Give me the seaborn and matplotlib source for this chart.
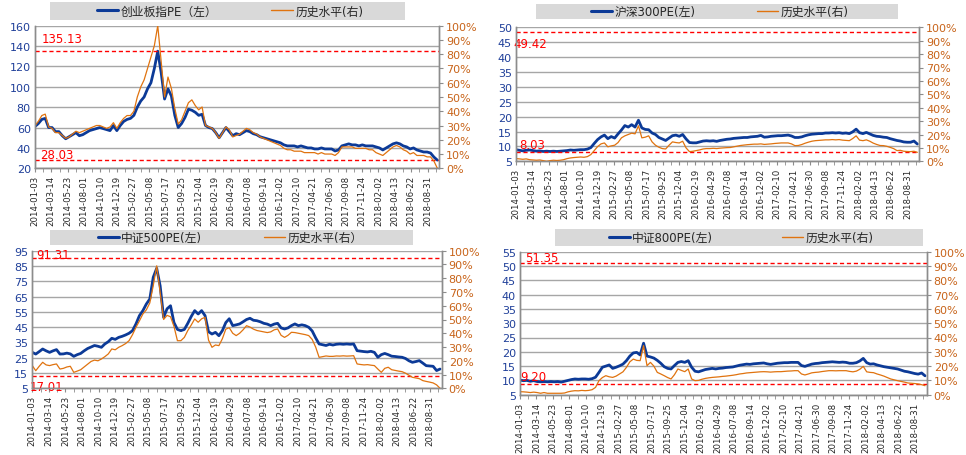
import numpy as np
import matplotlib
matplotlib.use('Agg')
import matplotlib.pyplot as plt
from matplotlib.patches import Rectangle
from matplotlib.lines import Line2D
from matplotlib.ticker import FuncFormatter, MultipleLocator
import seaborn as sns

sns.set_style('white')
plt.rcParams['font.family'] = ['DejaVu Sans', 'Noto Sans CJK SC']

# 日期标签（每10周一个）
date_labels = ['2014-01-03', '2014-03-14', '2014-05-23', '2014-08-01', '2014-10-10',
               '2014-12-19', '2015-02-27', '2015-05-08', '2015-07-17', '2015-09-25',
               '2015-12-04', '2016-02-19', '2016-04-29', '2016-07-08', '2016-09-14',
               '2016-12-02', '2017-02-10', '2017-04-21', '2017-06-30', '2017-09-08',
               '2017-11-24', '2018-02-02', '2018-04-13', '2018-06-22', '2018-08-31']

# 创业板指 PE 与历史分位(%)，约每两周一个点
cyb_pe = [61, 64, 68, 69, 60, 60, 56, 56, 52, 49,
          51, 53, 55, 52, 53, 55, 57, 58, 59, 60,
          59, 58, 57, 62, 57, 62, 66, 68, 69, 72,
          80, 86, 90, 98, 104, 118, 135, 114, 88, 98,
          91, 72, 60, 64, 70, 78, 77, 75, 72, 73,
          62, 60, 59, 55, 50, 55, 60, 56, 52, 54,
          53, 55, 57, 56, 54, 53, 51, 50, 49, 48,
          47, 46, 45, 43, 42, 42, 42, 41, 42, 41,
          40, 40, 39, 39, 40, 39, 39, 39, 37, 38,
          42, 43, 44, 43, 43, 42, 43, 42, 42, 42,
          41, 40, 38, 40, 42, 44, 45, 44, 42, 41,
          39, 40, 38, 37, 36, 36, 35, 31, 28]
cyb_pct = [30, 33, 37, 38, 29, 28, 25, 25, 23, 21,
           22, 24, 26, 25, 26, 27, 28, 29, 30, 30,
           29, 28, 29, 32, 28, 32, 35, 37, 37, 40,
           50, 57, 62, 70, 78, 86, 100, 75, 50, 64,
           56, 42, 31, 34, 40, 46, 48, 44, 41, 43,
           30, 29, 28, 25, 21, 25, 29, 27, 22, 23,
           24, 26, 28, 27, 25, 24, 22, 21, 20, 19,
           18, 17, 16, 14, 13, 13, 12, 12, 12, 11,
           11, 11, 11, 10, 11, 10, 10, 10, 9, 11,
           15, 15, 15, 15, 14, 14, 14, 14, 13, 13,
           11, 10, 9, 11, 13, 15, 16, 15, 13, 12,
           10, 11, 9, 9, 9, 8, 8, 5, 0]

# 沪深300 PE 与历史分位(%)
hs300_pe = [8.9, 8.7, 8.5, 8.7, 8.8, 8.6, 8.4, 8.5, 8.3, 8.4,
            8.3, 8.4, 8.3, 8.4, 8.5, 8.6, 8.8, 8.7, 8.8, 8.9,
            8.9, 9.1, 9.6, 11.0, 12.3, 13.2, 13.8, 12.6, 13.3, 12.8,
            14.2, 15.5, 17.0, 16.5, 17.3, 16.5, 18.8, 16.2, 15.7, 15.6,
            14.5, 14.0, 13.0, 12.5, 12.0, 12.8, 13.6, 13.8, 13.4, 14.0,
            12.5, 11.3, 11.2, 11.2, 11.5, 11.8, 11.9, 11.8, 11.9, 11.7,
            12.0, 12.2, 12.4, 12.5, 12.7, 12.8, 12.9, 13.0, 13.0, 13.2,
            13.3, 13.4, 13.7, 13.1, 13.2, 13.4, 13.5, 13.6, 13.6, 13.7,
            13.8, 13.5, 13.0, 13.0, 13.2, 13.6, 13.9, 14.1, 14.2, 14.3,
            14.3, 14.5, 14.5, 14.6, 14.5, 14.6, 14.4, 14.5, 14.3, 14.9,
            15.8, 14.6, 14.3, 14.7, 14.2, 13.7, 13.4, 13.3, 13.1, 13.0,
            12.6, 12.3, 12.0, 11.8, 11.5, 11.4, 11.4, 11.8, 10.8]
hs300_pct = [2.0, 1.8, 1.5, 1.8, 1.2, 1.0, 0.8, 1.0, 0.5, 0.0,
             0.5, 0.8, 0.6, 0.8, 1.2, 2.0, 2.5, 2.8, 3.0, 3.2,
             3.0, 3.5, 5.0, 8.0, 11.0, 13.0, 13.7, 10.8, 11.5, 12.0,
             14.0, 17.5, 19.0, 20.0, 21.0, 20.5, 26.5, 17.5, 18.0, 19.0,
             14.5, 12.0, 10.5, 9.5, 9.2, 12.0, 14.5, 14.0, 13.7, 15.0,
             10.0, 7.2, 7.5, 8.0, 8.5, 9.2, 9.5, 9.5, 9.7, 9.5,
             9.8, 10.0, 10.2, 10.3, 10.8, 11.3, 11.8, 12.1, 12.4, 12.6,
             12.8, 12.8, 13.0, 12.6, 12.8, 13.0, 13.3, 13.5, 13.7, 13.7,
             13.7, 13.0, 11.7, 11.8, 12.5, 13.5, 14.3, 15.0, 15.4, 15.6,
             15.8, 16.0, 16.0, 16.2, 16.0, 16.2, 15.8, 15.6, 15.4, 17.0,
             19.0, 15.8, 15.4, 16.0, 15.0, 13.6, 12.6, 11.8, 11.7, 11.2,
             10.4, 9.5, 8.0, 8.2, 7.5, 7.3, 7.2, 7.5, 6.7]

# 中证500 PE 与历史分位(%)
zz500_pe = [28.5, 27.4, 29.0, 30.7, 29.5, 28.5, 29.5, 30.3, 27.4, 27.5,
            28.0, 27.5, 25.9, 27.0, 27.8, 29.5, 31.0, 32.0, 33.0, 32.5,
            31.8, 34.0, 35.5, 37.7, 37.0, 38.3, 39.0, 39.9, 41.0, 42.7,
            47.1, 52.5, 55.8, 60.1, 63.4, 77.6, 83.5, 72.0, 51.4, 57.0,
            59.0, 48.0, 43.5, 42.7, 43.5, 47.5, 52.0, 55.8, 53.6, 55.8,
            52.5, 42.0, 40.5, 41.6, 39.4, 42.7, 48.0, 50.5, 46.0, 46.5,
            47.1, 48.5, 50.0, 50.8, 49.5, 49.2, 48.5, 47.5, 47.0, 46.0,
            47.0, 47.5, 44.5, 43.8, 44.5, 46.0, 47.1, 46.0, 46.5, 46.0,
            44.9, 42.5, 38.0, 34.0, 33.5, 33.0, 33.8, 33.3, 33.8, 34.0,
            33.8, 34.0, 33.8, 34.0, 29.6, 29.3, 29.0, 28.8, 29.2, 28.5,
            25.3, 27.0, 27.8, 27.0, 26.0, 25.8, 25.5, 25.3, 24.5, 23.0,
            22.0, 22.5, 23.1, 21.5, 19.8, 19.6, 19.4, 16.6, 17.6]
zz500_pct = [16.5, 12.8, 16.0, 18.9, 17.0, 16.5, 17.2, 17.7, 14.0, 14.5,
             15.5, 16.0, 11.6, 12.5, 13.5, 15.5, 17.5, 19.5, 20.5, 20.0,
             21.3, 23.0, 25.0, 28.6, 28.0, 29.8, 31.0, 32.5, 34.6, 39.0,
             44.3, 49.0, 54.0, 57.0, 62.0, 74.6, 89.0, 69.7, 50.0, 53.0,
             52.0, 45.0, 34.6, 34.6, 37.0, 42.0, 46.0, 50.4, 48.0, 50.5,
             51.6, 35.0, 29.8, 31.5, 31.0, 36.0, 43.0, 44.0, 40.0, 38.3,
             40.0, 42.5, 45.5, 44.5, 43.0, 42.0, 41.5, 41.0, 40.5, 41.0,
             42.5, 43.1, 38.5, 37.0, 38.5, 40.7, 40.5, 40.0, 39.5, 39.0,
             38.3, 35.5, 30.0, 22.5, 23.0, 23.5, 23.2, 23.2, 23.5, 23.4,
             23.6, 23.4, 23.5, 23.7, 17.7, 17.3, 17.0, 17.2, 16.8, 16.5,
             14.0, 11.6, 14.5, 15.3, 13.5, 13.0, 12.5, 12.1, 11.0, 9.5,
             8.0, 7.5, 7.0, 5.6, 5.0, 4.5, 3.9, 2.5, 0.0]

# 中证800 PE 与历史分位(%)
zz800_pe = [10.1, 9.9, 10.0, 9.7, 9.9, 9.6, 9.5, 9.6, 9.5, 9.6,
            9.5, 9.6, 9.4, 9.7, 10.0, 10.3, 10.5, 10.4, 10.5, 10.5,
            10.4, 10.6, 11.1, 12.8, 14.6, 15.0, 15.4, 14.2, 14.6, 15.1,
            15.7, 16.9, 18.5, 19.6, 19.8, 18.9, 23.0, 18.5, 18.2, 17.8,
            17.0, 16.0, 14.8, 14.2, 14.0, 15.2, 16.3, 16.6, 16.3, 16.9,
            14.6, 13.2, 13.0, 13.4, 13.8, 14.0, 14.2, 14.0, 14.2, 14.3,
            14.5, 14.6, 14.7, 15.0, 15.3, 15.5, 15.7, 15.6, 15.8, 15.9,
            16.0, 16.1, 15.8, 15.6, 15.8, 16.0, 16.1, 16.2, 16.2, 16.3,
            16.3, 16.3, 15.2, 14.9, 15.3, 15.7, 15.9, 16.0, 16.2, 16.3,
            16.4, 16.5, 16.4, 16.3, 16.4, 16.3, 16.0, 16.0, 16.2, 16.8,
            17.7, 16.2, 15.7, 15.8, 15.4, 15.1, 14.8, 14.6, 14.4, 14.2,
            14.0, 13.6, 13.2, 13.0, 12.7, 12.4, 12.2, 12.6, 11.6]
zz800_pct = [2.1, 2.0, 1.8, 1.5, 1.8, 1.5, 1.0, 1.5, 1.0, 1.0,
             1.0, 1.0, 1.0, 1.2, 2.0, 2.5, 2.8, 2.7, 3.0, 2.8,
             3.0, 3.5, 5.1, 9.8, 12.0, 13.3, 12.5, 12.1, 13.0, 14.5,
             16.0, 19.1, 23.0, 24.9, 24.0, 23.8, 34.3, 20.3, 22.6, 20.0,
             15.6, 14.5, 13.3, 12.0, 11.0, 14.0, 18.0, 17.0, 16.1, 18.0,
             11.0, 9.8, 10.0, 10.8, 11.4, 11.8, 12.1, 12.3, 12.5, 12.8,
             13.0, 13.3, 13.6, 14.0, 14.5, 14.8, 15.2, 15.4, 15.6, 15.8,
             16.0, 16.1, 16.0, 15.8, 16.0, 16.1, 16.1, 16.3, 16.5, 16.6,
             16.8, 16.8, 14.5, 13.8, 14.5, 15.3, 15.6, 15.8, 16.2, 16.5,
             16.8, 16.8, 16.7, 16.8, 16.8, 16.8, 16.3, 16.0, 16.5, 17.8,
             19.8, 16.0, 15.6, 15.4, 14.5, 13.8, 13.0, 12.0, 11.0, 10.4,
             9.8, 9.3, 8.8, 8.2, 8.0, 7.8, 7.5, 7.0, 6.3]

W, H = 966, 456
BLUE = '#0C3A97'
ORANGE = '#E0730F'
RED = '#FF0000'
GRID = '#A6A6A6'
SPINE = '#8C8C8C'

# x 轴：交易周序号，约两周一个数据点
weeks = np.linspace(0, 246, len(cyb_pe))

panels = [
    dict(box=(35, 439, 26.7, 169.3), pe=cyb_pe, pct=cyb_pct, ylim=(20, 160), ystep=20,
         names=['创业板指PE（左）', '历史水平(右)'],
         lines=(135.13, 28.03), labels=[('135.13', 4.3, 147), ('28.03', 3.0, 34)],
         leg=(230, 12, 4.6), rect=(50, 405, 3, 21)),
    dict(box=(516, 919, 28.3, 162.3), pe=hs300_pe, pct=hs300_pct, ylim=(5, 50), ystep=5,
         names=['沪深300PE(左)', '历史水平(右)'],
         lines=(48.3, 8.1), labels=[('49.42', -1.8, 44.4), ('8.03', 1.8, 10.8)],
         leg=(720, 12.5, 5.2), rect=(536, 898, 5, 20)),
    dict(box=(32.3, 441.7, 251.7, 389.3), pe=zz500_pe, pct=zz500_pct, ylim=(5, 95), ystep=10,
         names=['中证500PE(左)', '历史水平(右）'],
         lines=(90.2, 13.3), labels=[('91.31', 2.2, 92.2), ('17.01', -1.4, 6.5)],
         leg=(230, 238.5, 5.2), rect=(50, 413, 231, 246)),
    dict(box=(520, 926.7, 252.7, 395.7), pe=zz800_pe, pct=zz800_pct, ylim=(5, 55), ystep=5,
         names=['中证800PE(左)', '历史水平(右)'],
         lines=(51.2, 8.8), labels=[('51.35', 3.2, 52.8), ('9.20', 0.2, 11.2)],
         leg=(741, 238.5, 5.8), rect=(555, 923, 230, 247)),
]

fig = plt.figure(figsize=(W / 100, H / 100), dpi=100)

for p in panels:
    left, right, top, bottom = p['box']
    ax = fig.add_axes([left / W, 1 - bottom / H, (right - left) / W, (bottom - top) / H])
    ax2 = ax.twinx()

    sns.lineplot(x=weeks, y=p['pe'], ax=ax, color=BLUE, linewidth=2.0)
    sns.lineplot(x=weeks, y=p['pct'], ax=ax2, color=ORANGE, linewidth=0.9)

    ymin, ymax = p['ylim']
    ax.set_xlim(0, 247)
    ax.set_ylim(ymin, ymax)
    ax.set_yticks(np.arange(ymin, ymax + 0.1, p['ystep']))
    ax2.set_ylim(0, 100)
    ax2.set_yticks(np.arange(0, 101, 10))
    ax2.yaxis.set_major_formatter(FuncFormatter(lambda v, pos: f'{v:.0f}%'))

    ax.set_xticks(np.arange(len(date_labels)) * 10)
    ax.set_xticklabels(date_labels, rotation=90, fontsize=6.2)
    ax.xaxis.set_minor_locator(MultipleLocator(5))
    ax.tick_params(axis='x', which='both', length=3, color=SPINE, pad=2, bottom=True)
    ax.tick_params(axis='y', length=0, labelsize=8, labelcolor='#1F3F99', pad=3)
    ax2.tick_params(axis='y', length=3, color=SPINE, labelsize=8, labelcolor='#C8641A', pad=2)

    ax.grid(axis='y', color=GRID, linewidth=1)
    ax.grid(axis='x', visible=False)
    for a in (ax, ax2):
        a.set_xlabel('')
        a.set_ylabel('')
        a.spines['top'].set_visible(False)
        for s in ('left', 'right', 'bottom'):
            a.spines[s].set_color(SPINE)
            a.spines[s].set_linewidth(1)

    for yv in p['lines']:
        ax.axhline(yv, color=RED, linestyle=(0, (3, 2)), linewidth=1, zorder=3)
    for txt, xv, yv in p['labels']:
        ax.text(xv, yv, txt, color=RED, fontsize=8.5, ha='left', va='center', zorder=4)

    # 图例灰色底框
    x0, x1, y0, y1 = p['rect']
    fig.add_artist(Rectangle((x0 / W, 1 - y1 / H), (x1 - x0) / W, (y1 - y0) / H,
                             transform=fig.transFigure, facecolor='#D9D9D9',
                             edgecolor='none', zorder=1))
    cx, cy, cs = p['leg']
    handles = [Line2D([], [], color=BLUE, linewidth=2.2),
               Line2D([], [], color=ORANGE, linewidth=1.0)]
    fig.legend(handles, p['names'], loc='center', bbox_to_anchor=(cx / W, 1 - cy / H),
               bbox_transform=fig.transFigure, ncol=2, frameon=False, fontsize=8.5,
               handlelength=1.8, handletextpad=0.2, columnspacing=cs, borderpad=0)

fig.savefig('out.png', dpi=100)
plt.close(fig)
